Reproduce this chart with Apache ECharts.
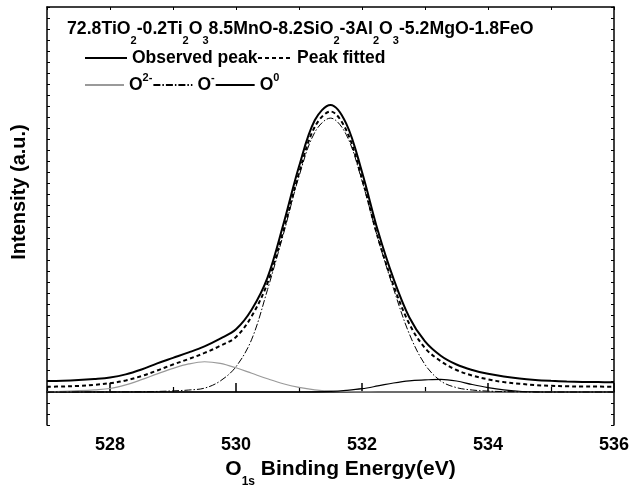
<!DOCTYPE html>
<html>
<head>
<meta charset="utf-8">
<script src="https://cdn.jsdelivr.net/npm/echarts@6/dist/echarts.min.js"></script>
<style>
html,body{margin:0;padding:0;background:#fff;}
#chart{width:630px;height:492px;}
</style>
</head>
<body>
<div id="chart"></div>
<script>
// Binding energy sample positions (eV)
var energy = [527, 527.25, 527.5, 527.75, 528, 528.25, 528.5, 528.75, 529, 529.25, 529.5, 529.75, 530, 530.25, 530.5, 530.75, 531, 531.25, 531.5, 531.75, 532, 532.25, 532.5, 532.75, 533, 533.25, 533.5, 533.75, 534, 534.25, 534.5, 534.75, 535, 535.25, 535.5, 535.75, 536];
// Intensity (a.u.)
var observedPeak = [1.0, 1.02, 1.08, 1.18, 1.32, 1.6, 2.05, 2.6, 3.1, 3.6, 4.15, 4.85, 5.7, 7.5, 10.4, 15.2, 20.5, 24.7, 26.1, 24.4, 20.0, 14.7, 10.3, 6.8, 4.6, 3.3, 2.5, 2.0, 1.65, 1.4, 1.22, 1.1, 1.02, 0.96, 0.92, 0.9, 0.88];
var peakFitted   = [0.48, 0.5, 0.55, 0.65, 0.8, 1.05, 1.45, 1.95, 2.5, 3.0, 3.55, 4.2, 5.0, 6.9, 9.9, 14.6, 19.9, 24.1, 25.5, 23.8, 19.4, 14.1, 9.7, 6.2, 4.0, 2.8, 2.0, 1.5, 1.15, 0.9, 0.75, 0.63, 0.56, 0.52, 0.5, 0.49, 0.48];
var o2minus      = [0.03, 0.06, 0.12, 0.2, 0.32, 0.65, 1.12, 1.65, 2.15, 2.55, 2.75, 2.6, 2.2, 1.7, 1.2, 0.75, 0.42, 0.2, 0.08, 0.03, 0.01, 0, 0, 0, 0, 0, 0, 0, 0, 0, 0, 0, 0, 0, 0, 0, 0];
var o1minus      = [0, 0, 0, 0, 0, 0.01, 0.02, 0.05, 0.1, 0.18, 0.35, 1.0, 2.3, 4.8, 9.3, 14.3, 19.6, 23.6, 24.9, 23.4, 19.2, 14.0, 9.4, 5.3, 2.5, 1.0, 0.4, 0.18, 0.08, 0.04, 0.02, 0, 0, 0, 0, 0, 0];
var o0           = [0, 0, 0, 0, 0, 0, 0, 0, 0, 0, 0, 0, 0, 0, 0, 0, 0, 0.01, 0.05, 0.15, 0.3, 0.55, 0.82, 1.02, 1.1, 1.15, 1.0, 0.68, 0.4, 0.19, 0.07, 0.02, 0, 0, 0, 0, 0];
// Axis ticks
var xMajorTicks = [528, 530, 532, 534, 536];
var xMinorTicks = [527, 529, 531, 533, 535];

function pairs(ys){ return energy.map(function(e,i){ return [e, ys[i]]; }); }

var FONT = 'Liberation Sans, Arial, Helvetica, sans-serif';
var chart = echarts.init(document.getElementById('chart'), null, {renderer:'canvas'});

var lineSeries = function(name, data, style, z){
  return {
    name: name, type: 'line', data: pairs(data), showSymbol: false, symbol: 'none',
    smooth: 0.35, lineStyle: style, itemStyle: { color: style.color }, z: z, animation: false, silent: true
  };
};

var legendText = { fontFamily: FONT, fontSize: 17.5, fontWeight: 'bold', color: '#000' };

var option = {
  animation: false,
  backgroundColor: '#fff',
  title: {
    text: '72.8TiO{s|2}-0.2Ti{s|2}O{s|3}8.5MnO-8.2SiO{s|2}-3Al{s|2}O{s|3}-5.2MgO-1.8FeO',
    left: 67, top: 13, padding: 0,
    textStyle: {
      fontFamily: FONT, fontSize: 17.7, fontWeight: 'bold', color: '#000', lineHeight: 33,
      rich: { s: { fontFamily: FONT, fontSize: 11, fontWeight: 'bold', color: '#000', verticalAlign: 'bottom', lineHeight: 33 } }
    }
  },
  legend: [
    {
      data: ['Observed peak'],
      left: 84, top: 49, padding: 0, itemGap: 0, itemWidth: 42, itemHeight: 16,
      itemStyle: { opacity: 0 }, textStyle: legendText, selectedMode: false
    },
    {
      data: ['Peak fitted'],
      left: 257, top: 49, padding: 0, itemGap: 0, itemWidth: 34, itemHeight: 16,
      itemStyle: { opacity: 0 }, textStyle: legendText, selectedMode: false
    },
    {
      data: ['O2-', 'O-', 'O0'],
      left: 84, top: 72, padding: 0, itemGap: 0, itemWidth: 39, itemHeight: 16,
      itemStyle: { opacity: 0 },
      selectedMode: false,
      formatter: function(n){
        if (n === 'O2-') return 'O{p|2-}';
        if (n === 'O-') return 'O{p|-}';
        return 'O{p|0}';
      },
      textStyle: {
        fontFamily: FONT, fontSize: 17.5, fontWeight: 'bold', color: '#000', lineHeight: 26,
        rich: { p: { fontFamily: FONT, fontSize: 11, fontWeight: 'bold', color: '#000', verticalAlign: 'top', lineHeight: 26 } }
      }
    }
  ],
  grid: { left: 47, right: 16, top: 7, bottom: 67, containLabel: false, outerBoundsMode: 'none' },
  xAxis: [
    {
      type: 'value', min: 527, max: 536, position: 'bottom',
      name: 'O{s|1s} Binding Energy(eV)', nameLocation: 'middle', nameGap: 25, nameMoveOverlap: false,
      nameTextStyle: {
        fontFamily: FONT, fontSize: 21, fontWeight: 'bold', color: '#000', lineHeight: 38,
        padding: [0, 0, 0, 20],
        rich: { s: { fontFamily: FONT, fontSize: 12, fontWeight: 'bold', color: '#000', verticalAlign: 'bottom', lineHeight: 38 } }
      },
      axisLine: { show: true, lineStyle: { color: '#000', width: 1.5 } },
      axisTick: { show: true, inside: true, length: 9, customValues: xMajorTicks, lineStyle: { color: '#000', width: 1.5 } },
      axisLabel: { show: true, customValues: xMajorTicks, margin: 11, fontFamily: FONT, fontSize: 18, fontWeight: 'bold', color: '#000' },
      splitLine: { show: false }
    },
    {
      type: 'value', min: 527, max: 536, position: 'bottom',
      axisLine: { show: false },
      axisTick: { show: true, inside: true, length: 5, customValues: xMinorTicks, lineStyle: { color: '#000', width: 1.2 } },
      axisLabel: { show: false },
      splitLine: { show: false }
    },
    {
      type: 'value', min: 527, max: 536, interval: 1, position: 'top',
      axisLine: { show: true, lineStyle: { color: '#000', width: 1.5 } },
      axisTick: { show: true, inside: true, length: 3, lineStyle: { color: '#000', width: 1 } },
      axisLabel: { show: false },
      splitLine: { show: false }
    }
  ],
  yAxis: [
    {
      type: 'value', min: -3, max: 35, interval: 1, position: 'left',
      name: 'Intensity (a.u.)', nameLocation: 'middle', nameGap: 18, nameRotate: 90, nameMoveOverlap: false,
      nameTextStyle: { fontFamily: FONT, fontSize: 20, fontWeight: 'bold', color: '#000', padding: [0, 0, 0, 48] },
      axisLine: { show: true, lineStyle: { color: '#000', width: 1.5 } },
      axisTick: { show: true, inside: true, length: 3, lineStyle: { color: '#000', width: 1 } },
      axisLabel: { show: false },
      splitLine: { show: false }
    },
    {
      type: 'value', min: -3, max: 35, interval: 1, position: 'right',
      axisLine: { show: true, lineStyle: { color: '#000', width: 1.5 } },
      axisTick: { show: true, inside: true, length: 3, lineStyle: { color: '#000', width: 1 } },
      axisLabel: { show: false },
      splitLine: { show: false }
    }
  ],
  series: [
    lineSeries('O2-', o2minus, { color: '#9a9a9a', width: 1.2, type: 'solid' }, 2),
    lineSeries('O0', o0, { color: '#000', width: 1.2, type: 'solid' }, 3),
    lineSeries('O-', o1minus, { color: '#000', width: 1, type: [7, 2, 1.5, 2] }, 4),
    lineSeries('Peak fitted', peakFitted, { color: '#000', width: 2, type: [4, 3] }, 5),
    lineSeries('Observed peak', observedPeak, { color: '#000', width: 2, type: 'solid' }, 6)
  ]
};
chart.setOption(option);
</script>
</body>
</html>
